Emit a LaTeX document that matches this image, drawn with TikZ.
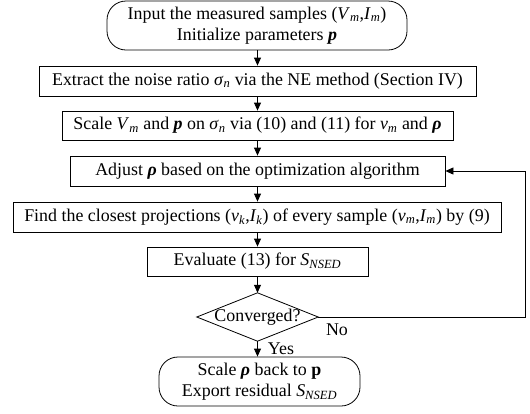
\documentclass[tikz,border=0pt]{standalone}
\usepackage{fontspec}
\setmainfont{Liberation Serif}
\usetikzlibrary{arrows.meta}
\newcommand{\vs}[2]{\textit{#1}\textsubscript{\textit{#2}}}
\newcommand{\bi}[1]{\textbf{\textit{#1}}}
\begin{document}
\begin{tikzpicture}[x=1pt,y=-1pt,
  every node/.style={font=\fontsize{17.9}{21.5}\selectfont, inner sep=0pt, align=center, text=black},
  boxn/.style={draw, line width=0.8pt, rectangle, minimum height=30pt},
  roundn/.style={draw, line width=0.8pt, rectangle, rounded corners=19pt, minimum height=49pt},
  arr/.style={line width=0.8pt, -{Triangle[length=8pt,width=7pt]}},
  lab/.style={font=\fontsize{17.9}{21}\selectfont}]
\useasboundingbox (0,0) rectangle (530,413);
\node[roundn, minimum width=300pt] (n1) at (257,25.5) {Input the measured samples (\vs{V}{m},\vs{I}{m})\\Initialize parameters \bi{p}};
\node[boxn, minimum width=437pt] (n2) at (257.5,81) {Extract the noise ratio \vs{σ}{n} via the NE method (Section IV)};
\node[boxn, minimum width=391pt, minimum height=29pt] (n3) at (257.5,125.5) {Scale \vs{V}{m} and \bi{p} on \vs{σ}{n} via (10) and (11) for \vs{v}{m} and \bi{ρ}};
\node[boxn, minimum width=375pt] (n4) at (257.5,171) {Adjust \bi{ρ} based on the optimization algorithm};
\node[boxn, minimum width=488pt] (n5) at (257,217) {Find the closest projections (\vs{v}{k},\vs{I}{k}) of every sample (\vs{v}{m},\vs{I}{m}) by (9)};
\node[boxn, minimum width=221pt, minimum height=29pt] (n6) at (257.5,261.5) {Evaluate (13) for \vs{S}{NSED}};
\node[minimum width=121pt, minimum height=48pt] (n7) at (257.5,317) {Converged?};
\draw[line width=0.8pt] (n7.west) -- (n7.north) -- (n7.east) -- (n7.south) -- cycle;
\node[roundn, minimum width=201pt] (n8) at (259.5,381.5) {Scale \bi{ρ} back to \textbf{p}\\Export residual \vs{S}{NSED}};
\coordinate (c1) at (525,317);
\coordinate (c2) at (525,171);
\draw[arr] (n1.south -| n2.north) -- (n2.north);
\draw[arr] (n2.south) -- (n3.north);
\draw[arr] (n3.south) -- (n4.north);
\draw[arr] (n4.south) -- (n5.north -| n4.south);
\draw[arr] (n5.south -| n6.north) -- (n6.north);
\draw[arr] (n6.south) -- (n7.north);
\draw[arr] (n7.south) -- (n7.south |- n8.north);
\draw[arr] (n7.east) -- (c1) -- (c2) -- (n4.east);
\node[lab] (no) at (337,330) {No};
\node[lab] (yes) at (281,349) {Yes};
\end{tikzpicture}
\end{document}
